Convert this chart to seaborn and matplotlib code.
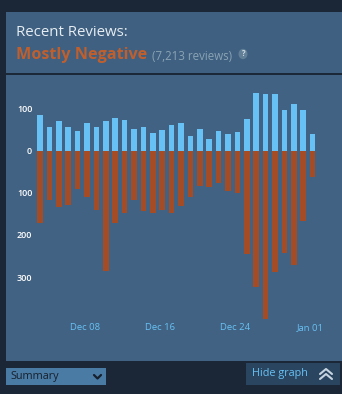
import matplotlib
matplotlib.use("Agg")
import matplotlib.pyplot as plt
import seaborn as sns
import pandas as pd
from matplotlib.patches import Rectangle, Circle
from matplotlib.lines import Line2D

# ---- data ----
days = [f"Dec {d:02d}" for d in range(3, 32)] + ["Jan 01"]
positive = [84, 56, 69, 56, 47, 65, 56, 71, 78, 73, 51, 56, 41, 49, 61,
            64, 34, 50, 28, 47, 40, 43, 74, 137, 133, 134, 96, 110, 96, 40]
negative = [172, 118, 133, 129, 92, 110, 141, 285, 172, 148, 118, 144, 148, 140, 148,
            131, 110, 85, 87, 77, 95, 101, 246, 324, 400, 288, 243, 271, 168, 63]
date_ticks = ["Dec 08", "Dec 16", "Dec 24", "Jan 01"]
y_ticks = [100, 0, -100, -200, -300]
y_tick_labels = ["100", "0", "100", "200", "300"]

df = pd.DataFrame({"day": days, "positive": positive,
                   "negative": [-v for v in negative]})

W, H = 342, 394
sns.set_theme(style="white")
plt.rcParams["font.family"] = ["Open Sans", "DejaVu Sans"]

fig = plt.figure(figsize=(W / 100, H / 100), dpi=100)
fig.patch.set_facecolor("#1b2636")


def fx(x):
    return x / W


def fy(y):
    return 1 - y / H


def rect(x0, y0, x1, y1, color, z=0):
    fig.add_artist(Rectangle((fx(x0), fy(y1)), fx(x1) - fx(x0), fy(y0) - fy(y1),
                             transform=fig.transFigure, facecolor=color,
                             edgecolor="none", zorder=z))


# panels
rect(6, 12, 342, 73, "#3f6080")
rect(6, 73, 342, 75, "#1b2838")
rect(6, 75, 342, 361, "#416282")
rect(246, 363, 340, 385, "#2a4560")
rect(6, 368, 106, 385, "#4a7ba4")

# header texts
fig.text(fx(16), fy(33), "Recent Reviews:", color="#e6edf2", fontsize=10.8,
         ha="left", va="center")
fig.text(fx(16), fy(55), "Mostly Negative", color="#c05f2e", fontsize=11.6,
         fontweight="bold", ha="left", va="center")
fig.text(fx(152), fy(56), "(7,213 reviews)", color="#8aa3b5", fontsize=8.3,
         ha="left", va="center")
fig.add_artist(Circle((fx(243), fy(54)), 4.5 / W, transform=fig.transFigure,
                      facecolor="#617f96", edgecolor="none"))
fig.text(fx(243), fy(54), "?", color="#d0dbe3", fontsize=5.5, fontweight="bold",
         ha="center", va="center")

# bottom controls
fig.text(fx(10), fy(376.5), "Summary", color="#16202d", fontsize=7.8,
         ha="left", va="center")
fig.add_artist(Line2D([fx(94), fx(97.5), fx(101)], [fy(375), fy(378.5), fy(375)],
                      transform=fig.transFigure, color="#16202d", lw=1.6))
fig.text(fx(252), fy(373.5), "Hide graph", color="#67c1f5", fontsize=7.8,
         ha="left", va="center")
for yy in (369, 374):
    fig.add_artist(Line2D([fx(320), fx(326), fx(332)], [fy(yy + 5), fy(yy), fy(yy + 5)],
                          transform=fig.transFigure, color="#c6d4df", lw=1.5))

# ---- chart ----
ax_left, ax_right, ax_top, ax_bottom = 35, 330, 88, 322
ax = fig.add_axes([fx(ax_left), fy(ax_bottom), fx(ax_right) - fx(ax_left),
                   fy(ax_top) - fy(ax_bottom)])
ax.set_facecolor("none")

sns.barplot(data=df, x="day", y="positive", color="#67c1f5", saturation=1,
            width=0.6, errorbar=None, linewidth=0, ax=ax)
sns.barplot(data=df, x="day", y="negative", color="#a34c25", saturation=1,
            width=0.6, errorbar=None, linewidth=0, ax=ax)

px_per_day = 9.4
first_bar_px = 40
ax.set_xlim(-(first_bar_px - ax_left) / px_per_day,
            (ax_right - first_bar_px) / px_per_day)
px_per_unit = 0.422
ax.set_ylim(-(ax_bottom - 150.5) / px_per_unit, (150.5 - ax_top) / px_per_unit)

ax.set_yticks(y_ticks)
ax.set_yticklabels(y_tick_labels, color="white", fontsize=6.5, fontweight="semibold")
tick_pos = [days.index(d) - 0.2 for d in date_ticks]
ax.set_xticks(tick_pos)
ax.set_xticklabels(date_ticks, color="#67c1f5", fontsize=6.8)
ax.tick_params(axis="both", length=0)
ax.tick_params(axis="y", pad=2)
ax.tick_params(axis="x", pad=1)
ax.set_xlabel("")
ax.set_ylabel("")
for s in ax.spines.values():
    s.set_visible(False)

fig.savefig("out.png", dpi=100, facecolor=fig.get_facecolor())
